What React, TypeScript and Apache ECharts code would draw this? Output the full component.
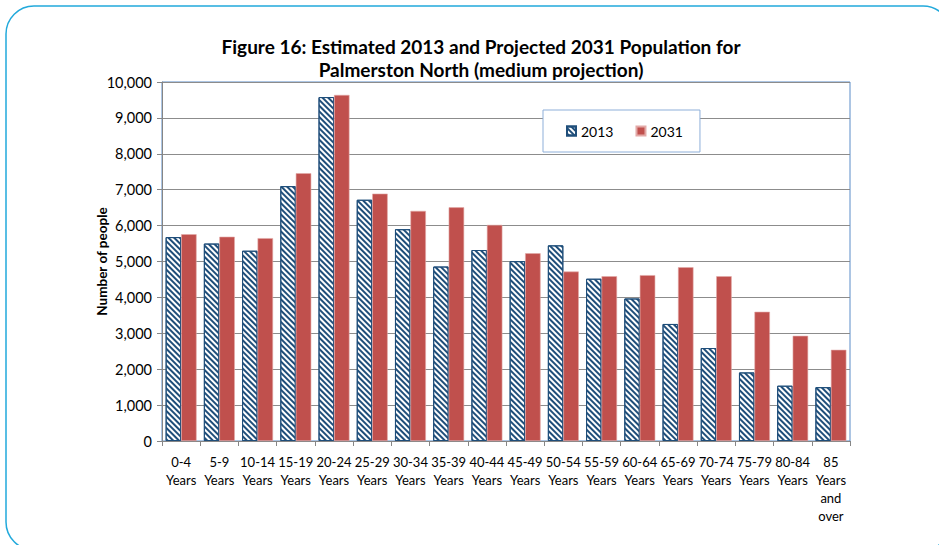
import React, { useEffect, useRef } from "react";
import * as echarts from "echarts";

// Age groups shown along the x axis
const ageGroups: string[] = [
  "0-4\nYears", "5-9\nYears", "10-14\nYears", "15-19\nYears", "20-24\nYears",
  "25-29\nYears", "30-34\nYears", "35-39\nYears", "40-44\nYears", "45-49\nYears",
  "50-54\nYears", "55-59\nYears", "60-64\nYears", "65-69\nYears", "70-74\nYears",
  "75-79\nYears", "80-84\nYears", "85\nYears\nand\nover",
];

// Estimated population, 2013
const pop2013: number[] = [
  5680, 5500, 5300, 7100, 9580, 6720, 5900, 4860, 5320,
  5010, 5450, 4520, 3970, 3260, 2590, 1910, 1540, 1500,
];

// Projected population, 2031 (medium projection)
const pop2031: number[] = [
  5760, 5690, 5650, 7460, 9640, 6890, 6410, 6510, 6020,
  5230, 4720, 4590, 4620, 4840, 4590, 3600, 2930, 2540,
];

const seriesNames: string[] = ["2013", "2031"];

const FONT = "Lato, 'DejaVu Sans', sans-serif";
const NAVY = "#1F4E7A";
const RED = "#C0504D";

export default function App() {
  const ref = useRef<HTMLDivElement>(null);

  useEffect(() => {
    if (!ref.current) return;
    const chart = echarts.init(ref.current, undefined, { renderer: "svg" });

    chart.setOption({
      animation: false,
      backgroundColor: "#ffffff",
      textStyle: { fontFamily: FONT },
      title: {
        text: "Figure 16: Estimated 2013 and Projected 2031 Population for\nPalmerston North (medium projection)",
        left: 476,
        top: 30,
        textAlign: "center",
        textStyle: {
          fontFamily: FONT,
          fontSize: 19,
          fontWeight: "bold",
          lineHeight: 23,
          color: "#000000",
        },
      },
      legend: {
        data: seriesNames,
        left: 543,
        top: 110,
        orient: "horizontal",
        padding: [14, 17, 14, 23],
        itemGap: 22,
        itemWidth: 9,
        itemHeight: 9,
        icon: "rect",
        borderColor: "#8EAFD9",
        borderWidth: 1,
        backgroundColor: "#ffffff",
        textStyle: { fontFamily: FONT, fontSize: 14, color: "#000000" },
      },
      grid: {
        left: 162,
        right: 89,
        top: 82,
        bottom: 104,
        show: true,
        borderColor: "#5B8CC8",
        borderWidth: 1,
        backgroundColor: "transparent",
      },
      xAxis: {
        type: "category",
        data: ageGroups,
        axisLine: { show: true, lineStyle: { color: "#868686", width: 1 } },
        axisTick: {
          show: true,
          alignWithLabel: false,
          length: 5,
          lineStyle: { color: "#868686" },
        },
        axisLabel: {
          interval: 0,
          margin: 12,
          fontFamily: FONT,
          fontSize: 13,
          lineHeight: 18,
          color: "#000000",
          verticalAlign: "top",
        },
      },
      yAxis: {
        type: "value",
        min: 0,
        max: 10000,
        interval: 1000,
        name: "Number of people",
        nameLocation: "middle",
        nameGap: 53,
        nameMoveOverlap: false,
        nameTextStyle: {
          fontFamily: FONT,
          fontSize: 13.5,
          fontWeight: "bold",
          color: "#000000",
        },
        axisLine: { show: true, lineStyle: { color: "#868686", width: 1 } },
        axisTick: { show: true, length: 5, lineStyle: { color: "#868686" } },
        axisLabel: {
          margin: 10,
          fontFamily: FONT,
          fontSize: 14.5,
          color: "#000000",
          formatter: (v: number) => v.toLocaleString("en-US"),
        },
        splitLine: { show: true, lineStyle: { color: "#8C8C8C", width: 1 } },
      },
      series: [
        {
          name: seriesNames[0],
          type: "bar",
          data: pop2013,
          barGap: "0%",
          barCategoryGap: "19%",
          itemStyle: {
            color: "#ffffff",
            borderColor: NAVY,
            borderWidth: 1,
            decal: {
              symbol: "rect",
              symbolSize: 1,
              color: NAVY,
              backgroundColor: "#ffffff",
              dashArrayX: [1, 0],
              dashArrayY: [1.7, 1.7],
              rotation: Math.PI / 4,
            },
          },
        },
        {
          name: seriesNames[1],
          type: "bar",
          data: pop2031,
          barGap: "0%",
          barCategoryGap: "19%",
          itemStyle: {
            color: RED,
            borderColor: "#E3A9A7",
            borderWidth: 0.6,
          },
        },
      ],
      graphic: [
        {
          type: "rect",
          silent: true,
          shape: { x: 6, y: 6, width: 945, height: 544, r: 28 },
          style: { fill: "none", stroke: "#22A9DB", lineWidth: 1.5 },
          z: 100,
        },
      ],
    });

    return () => chart.dispose();
  }, []);

  return (
    <div
      ref={ref}
      style={{ position: "fixed", left: 0, top: 0, width: 939, height: 545 }}
    />
  );
}
